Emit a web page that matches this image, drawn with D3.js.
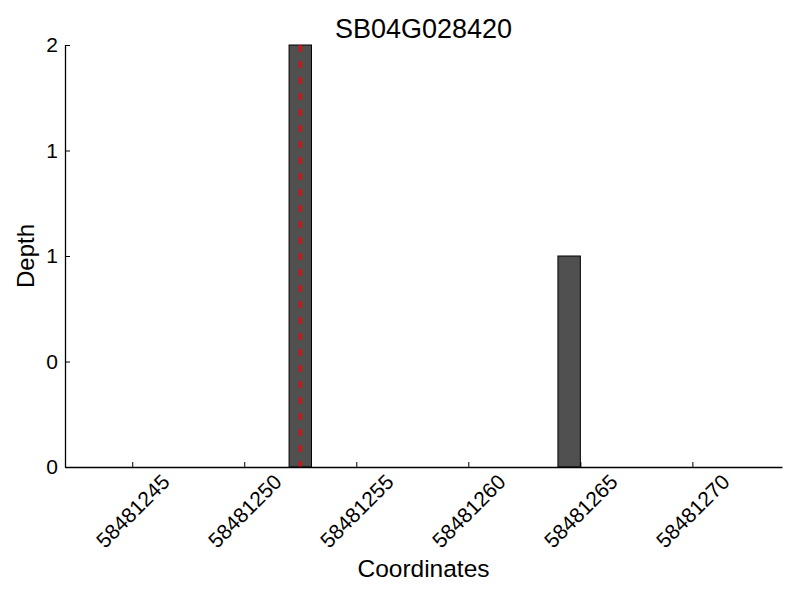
<!DOCTYPE html>
<html>
<head>
<meta charset="utf-8">
<script src="https://cdn.jsdelivr.net/npm/d3@7"></script>
<style>
  body { margin: 0; background: #fff; }
  text { font-family: "Liberation Sans", Arial, sans-serif; fill: #000; }
</style>
</head>
<body>
<div id="chart"></div>
<script>
// Data
var geneName = "SB04G028420";
var positions = [58481252, 58481264];
var depths = [2, 1];
var markerPos = 58481252.5;
var xDomain = [58481242, 58481274];
var xTicks = [58481245, 58481250, 58481255, 58481260, 58481265, 58481270];
var yTicks = [0, 0.5, 1, 1.5, 2];
var yTickLabels = ["0", "0", "1", "1", "2"];

var width = 800, height = 600;
var margin = {top: 45, right: 18, bottom: 133, left: 65};

var svg = d3.select("#chart").append("svg")
    .attr("width", width)
    .attr("height", height);

var xScale = d3.scaleLinear()
    .domain(xDomain)
    .range([margin.left, width - margin.right]);
var yScale = d3.scaleLinear()
    .domain([0, 2])
    .range([height - margin.bottom, margin.top]);

// bars, each one base unit wide
svg.append("g").selectAll("rect")
    .data(positions)
    .enter().append("rect")
    .attr("x", function (d) { return xScale(d); })
    .attr("y", function (d, i) { return yScale(depths[i]); })
    .attr("width", function (d) { return xScale(d + 1) - xScale(d); })
    .attr("height", function (d, i) { return yScale(0) - yScale(depths[i]); })
    .attr("fill", "#505050")
    .attr("stroke", "#000")
    .attr("stroke-width", 1);

// marker line
svg.append("line")
    .attr("x1", xScale(markerPos))
    .attr("x2", xScale(markerPos))
    .attr("y1", yScale(2))
    .attr("y2", yScale(0))
    .attr("stroke", "red")
    .attr("stroke-width", 2.2)
    .attr("stroke-dasharray", "7,9");

// x axis (ticks point inward)
var xAxis = svg.append("g")
    .attr("transform", "translate(0," + yScale(0) + ")")
    .call(d3.axisBottom(xScale).tickValues(xTicks).tickSizeInner(-5).tickSizeOuter(0).tickFormat(""));
xAxis.select(".domain").attr("stroke", "#000").attr("stroke-width", 1.3);
xAxis.selectAll(".tick").append("text")
    .attr("transform", "translate(0,44) rotate(-45)")
    .attr("text-anchor", "middle")
    .attr("dy", "0.35em")
    .style("font-size", "21px")
    .text(function (d) { return d; });

// y axis
var yAxis = svg.append("g")
    .attr("transform", "translate(" + margin.left + ",0)")
    .call(d3.axisLeft(yScale).tickValues(yTicks).tickSizeInner(-5).tickSizeOuter(0)
        .tickFormat(function (d, i) { return yTickLabels[i]; }));
yAxis.select(".domain").attr("stroke", "#000").attr("stroke-width", 1.3);
yAxis.selectAll(".tick text")
    .attr("x", -7)
    .attr("fill", "#000")
    .style("font-size", "21px")
    .style("font-family", "Liberation Sans, Arial, sans-serif");

// title and axis labels
svg.append("text")
    .attr("x", (xScale.range()[0] + xScale.range()[1]) / 2)
    .attr("y", 38)
    .attr("text-anchor", "middle")
    .style("font-size", "27px")
    .text(geneName);

svg.append("text")
    .attr("x", (xScale.range()[0] + xScale.range()[1]) / 2)
    .attr("y", 577)
    .attr("text-anchor", "middle")
    .style("font-size", "24.5px")
    .text("Coordinates");

svg.append("text")
    .attr("transform", "translate(34," + (yScale(1)) + ") rotate(-90)")
    .attr("text-anchor", "middle")
    .style("font-size", "24px")
    .text("Depth");
</script>
</body>
</html>
